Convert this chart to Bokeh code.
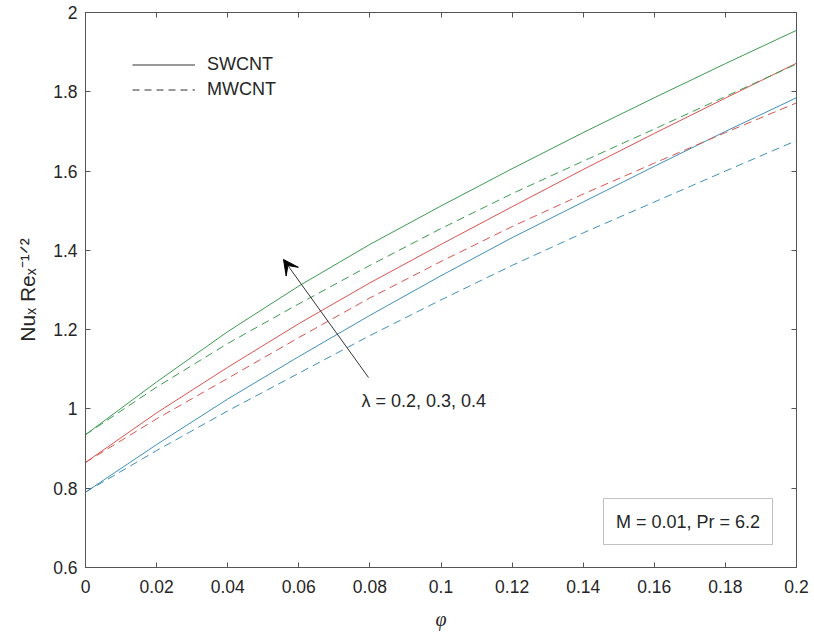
from bokeh.plotting import figure
from bokeh.models import (LinearAxis, FixedTicker, CustomJSTickFormatter, Label,
                          Legend, LegendItem, Arrow, VeeHead, BoxAnnotation, Range1d)
from bokeh.embed import file_html
from bokeh.resources import INLINE

# ---------------- data ----------------
phi = [0.0, 0.02, 0.04, 0.06, 0.08, 0.10, 0.12, 0.14, 0.16, 0.18, 0.20]

# SWCNT (solid)
sw_l02 = [0.790, 0.910, 1.025, 1.132, 1.236, 1.336, 1.432, 1.522, 1.612, 1.700, 1.785]
sw_l03 = [0.865, 0.990, 1.105, 1.215, 1.318, 1.415, 1.510, 1.604, 1.695, 1.784, 1.872]
sw_l04 = [0.935, 1.068, 1.195, 1.310, 1.415, 1.512, 1.606, 1.697, 1.785, 1.871, 1.955]
# MWCNT (dashed)
mw_l02 = [0.790, 0.895, 0.995, 1.090, 1.185, 1.275, 1.362, 1.444, 1.522, 1.600, 1.677]
mw_l03 = [0.865, 0.975, 1.077, 1.180, 1.280, 1.372, 1.460, 1.542, 1.620, 1.697, 1.772]
mw_l04 = [0.935, 1.055, 1.165, 1.265, 1.362, 1.455, 1.543, 1.625, 1.706, 1.788, 1.870]

x_ticks = [0, 0.02, 0.04, 0.06, 0.08, 0.1, 0.12, 0.14, 0.16, 0.18, 0.2]
y_ticks = [0.6, 0.8, 1.0, 1.2, 1.4, 1.6, 1.8, 2.0]

colors = {"0.2": "#3f8fba", "0.3": "#d9534f", "0.4": "#3c9a50"}

FONT = "Liberation Sans"
W, H = 814, 634
FL, FR, FT, FB = 85, 796, 12, 567   # frame edges in page pixels


def dx(px):
    return (px - FL) / (FR - FL) * 0.2


def dy(py):
    return 0.6 + (FB - py) / (FB - FT) * 1.4


p = figure(width=W, height=H, output_backend="svg", toolbar_location=None,
           x_range=Range1d(0, 0.2), y_range=Range1d(0.6, 2.0),
           min_border_left=FL, min_border_right=W - FR,
           min_border_top=FT, min_border_bottom=H - FB)
p.background_fill_color = "white"
p.border_fill_color = "white"
p.grid.visible = False
p.outline_line_color = "#555555"
p.outline_line_width = 1

fmt = CustomJSTickFormatter(code="return String(Math.round(tick*100)/100);")
blank = CustomJSTickFormatter(code="return '';")


def style_axis(ax, labels=True):
    ax.axis_line_color = "#555555"
    ax.major_tick_line_color = "#555555"
    ax.major_tick_in = 5
    ax.major_tick_out = 0
    ax.minor_tick_in = 0
    ax.minor_tick_out = 0
    ax.major_label_text_color = "#262626"
    ax.major_label_text_font = FONT
    ax.major_label_text_font_size = "17.5px"
    if not labels:
        ax.major_label_standoff = 0


p.xaxis.ticker = FixedTicker(ticks=x_ticks)
p.yaxis.ticker = FixedTicker(ticks=y_ticks)
p.xaxis.formatter = fmt
p.yaxis.formatter = fmt
style_axis(p.xaxis[0])
style_axis(p.yaxis[0])
p.xaxis.major_label_standoff = 12
p.yaxis.major_label_standoff = 8

p.xaxis.axis_label = "φ"
p.xaxis.axis_label_text_font = "Liberation Serif"
p.xaxis.axis_label_text_font_style = "italic"
p.xaxis.axis_label_text_font_size = "20px"
p.xaxis.axis_label_text_color = "#262626"
p.xaxis.axis_label_standoff = 12

p.yaxis.axis_label = "Nuₓ Reₓ⁻¹ᐟ²"
p.yaxis.axis_label_text_font = FONT
p.yaxis.axis_label_text_font_style = "normal"
p.yaxis.axis_label_text_font_size = "21px"
p.yaxis.axis_label_text_color = "#262626"
p.yaxis.axis_label_standoff = 11

top = LinearAxis(ticker=FixedTicker(ticks=x_ticks), formatter=blank)
right = LinearAxis(ticker=FixedTicker(ticks=y_ticks), formatter=blank)
style_axis(top, labels=False)
style_axis(right, labels=False)
p.add_layout(top, "above")
p.add_layout(right, "right")

# curves
for lam, ys in (("0.2", sw_l02), ("0.3", sw_l03), ("0.4", sw_l04)):
    p.line(phi, ys, line_color=colors[lam], line_width=1)
for lam, ys in (("0.2", mw_l02), ("0.3", mw_l03), ("0.4", mw_l04)):
    p.line(phi, ys, line_color=colors[lam], line_width=1, line_dash="8 5")

# legend (dark samples); single-point renderers draw nothing themselves
r_sw = p.line(phi[:1], sw_l02[:1], line_color="#333333", line_width=1)
r_mw = p.line(phi[:1], mw_l02[:1], line_color="#333333", line_width=1, line_dash="7 5")
leg = Legend(items=[LegendItem(label="SWCNT", renderers=[r_sw]),
                    LegendItem(label="MWCNT", renderers=[r_mw])],
             location=(132 - FL, FB - 102), orientation="vertical",
             glyph_width=63, glyph_height=25, label_height=25, label_standoff=12,
             padding=0, margin=0, spacing=0,
             border_line_alpha=0, background_fill_alpha=0,
             label_text_font=FONT, label_text_font_size="18px",
             label_text_color="#262626", label_text_baseline="middle")
p.add_layout(leg, "center")

# arrow and lambda text
p.add_layout(Arrow(end=VeeHead(size=15, fill_color="black", line_color="black"),
                   x_start=dx(368), y_start=dy(377), x_end=dx(283), y_end=dy(259),
                   line_color="#333333", line_width=1))
p.add_layout(Label(x=dx(361), y=dy(400), text="λ = 0.2, 0.3, 0.4",
                   text_font=FONT, text_font_size="18px", text_color="#262626",
                   text_baseline="middle", text_align="left"))

# parameter box
p.add_layout(BoxAnnotation(left=dx(603), right=dx(772), top=dy(498), bottom=dy(544),
                           fill_color="white", fill_alpha=1.0,
                           line_color="#333333", line_width=1))
p.add_layout(Label(x=dx(687.5), y=dy(521), text="M = 0.01, Pr = 6.2",
                   text_font=FONT, text_font_size="18px", text_color="#262626",
                   text_baseline="middle", text_align="center"))

open("out.html", "w").write(file_html(p, INLINE))
